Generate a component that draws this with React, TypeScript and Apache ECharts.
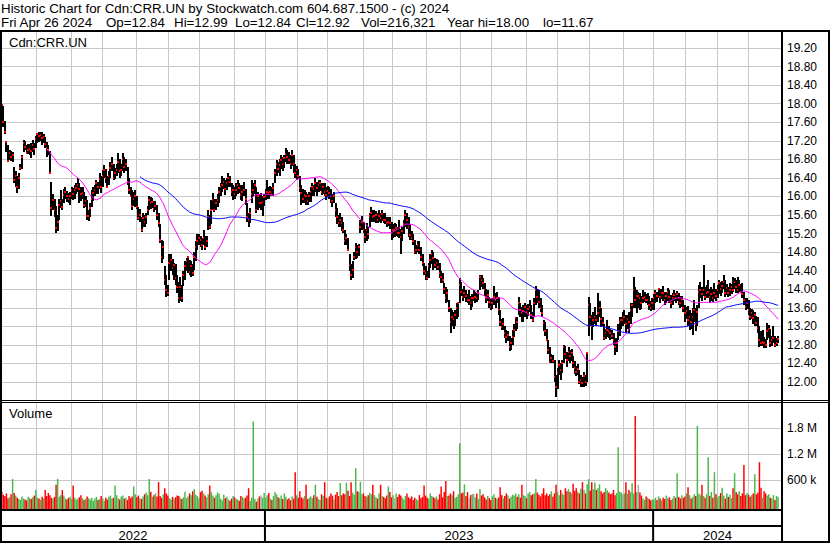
import React, { useEffect, useRef } from 'react';
import * as echarts from 'echarts';

const FONT = '"Liberation Sans", Arial, Helvetica, sans-serif';

// ---- calendar: trading days per month (Apr 2022 .. Apr 2024) ----
const monthBars = [2, 21, 22, 20, 22, 21, 20, 22, 20, 21, 19, 23, 19, 22, 22, 20, 22, 20, 21, 22, 19, 21, 20, 20, 20];
const yearNames = ['2022', '2023', '2024'];
const yearBars = [170, 250, 81];
const padSlots = 2; // empty slots after the last bar

// ---- daily closes ----
const close2022 = [
  17.97, 17.60, 17.40, 17.18, 16.76, 16.93, 16.85, 16.90, 16.35, 16.43,
  16.20, 16.40, 16.62, 16.86, 17.16, 17.06, 16.93, 17.00, 17.02, 16.98,
  17.10, 17.02, 17.24, 17.34, 17.30, 17.32, 17.25, 17.29, 17.12, 17.04,
  17.00, 16.50, 15.75, 15.93, 15.70, 15.31, 15.45, 15.82, 15.90, 15.78,
  16.03, 16.10, 16.00, 15.95, 16.00, 16.14, 16.05, 16.14, 16.18, 16.25,
  16.15, 16.05, 16.07, 15.82, 15.90, 15.57, 15.58, 15.75, 15.95, 16.07,
  16.14, 16.28, 16.20, 16.37, 16.21, 16.45, 16.57, 16.39, 16.21, 16.45,
  16.61, 16.70, 16.39, 16.50, 16.57, 16.75, 16.54, 16.57, 16.80, 16.64,
  16.70, 16.32, 16.14, 16.01, 15.80, 15.95, 16.01, 15.78, 15.53, 15.60,
  15.28, 15.53, 15.45, 15.56, 15.71, 15.92, 15.85, 15.89, 15.74, 15.80,
  15.60, 15.42, 15.06, 14.70, 14.90, 14.20, 13.98, 13.91, 14.56, 14.63,
  14.45, 14.52, 14.25, 14.05, 13.80, 14.05, 13.80, 14.31, 14.50, 14.60,
  14.70, 14.38, 14.49, 14.35, 14.70, 14.92, 15.03, 15.10, 15.06, 14.95,
  15.10, 14.92, 15.05, 15.56, 15.35, 15.70, 15.92, 15.71, 15.85, 15.92,
  16.10, 16.21, 16.25, 16.32, 16.15, 16.28, 16.40, 16.32, 16.10, 16.14,
  16.05, 16.14, 16.25, 16.18, 16.03, 16.10, 16.14, 15.95, 15.56, 15.49,
  15.65, 16.05, 16.14, 16.25, 15.71, 16.00, 15.85, 15.85, 15.89, 15.99,
];
const close2023 = [
  16.00, 16.10, 16.07, 16.10, 16.05, 16.18, 16.51, 16.71, 16.60, 16.68,
  16.79, 16.70, 16.82, 16.92, 16.85, 16.79, 16.71, 16.90, 16.71, 16.50,
  16.57, 16.45, 16.18, 16.07, 15.95, 16.03, 16.00, 15.90, 16.02, 16.10,
  16.21, 16.15, 16.28, 16.18, 16.25, 16.28, 16.10, 16.20, 16.10, 16.03,
  16.12, 16.07, 16.00, 15.90, 16.00, 15.71, 15.55, 15.42, 15.50, 15.42,
  15.28, 15.03, 15.10, 14.85, 14.52, 14.30, 14.42, 14.70, 14.92, 14.80,
  14.90, 15.35, 15.45, 15.28, 15.13, 15.28, 15.20, 15.57, 15.64, 15.55,
  15.57, 15.60, 15.50, 15.57, 15.53, 15.62, 15.50, 15.49, 15.42, 15.45,
  15.42, 15.21, 15.28, 15.28, 15.31, 15.22, 15.21, 15.13, 15.25, 15.40,
  15.60, 15.49, 15.35, 15.17, 15.10, 15.05, 14.81, 14.85, 14.95, 14.85,
  14.70, 14.56, 14.40, 14.34, 14.25, 14.49, 14.63, 14.75, 14.67, 14.52,
  14.56, 14.48, 14.35, 14.27, 14.20, 14.00, 13.80, 13.91, 13.60, 13.30,
  13.41, 13.35, 13.45, 13.60, 13.70, 14.09, 13.95, 13.84, 13.91, 13.85,
  13.77, 13.77, 13.70, 13.82, 13.82, 13.84, 13.80, 13.92, 14.27, 14.20,
  14.13, 13.98, 13.80, 13.88, 13.73, 13.62, 13.70, 13.84, 13.77, 13.82,
  13.55, 13.30, 13.19, 13.25, 13.05, 12.98, 13.02, 12.76, 12.85, 12.98,
  13.12, 13.37, 13.30, 13.70, 13.55, 13.48, 13.52, 13.62, 13.50, 13.58,
  13.62, 13.45, 13.34, 13.70, 13.98, 13.84, 13.73, 13.60, 13.48, 13.27,
  13.10, 12.91, 12.70, 12.44, 12.51, 12.45, 12.10, 11.90, 12.19, 12.37,
  12.25, 12.40, 12.76, 12.60, 12.48, 12.65, 12.55, 12.62, 12.40, 12.30,
  12.22, 12.28, 12.01, 12.05, 11.97, 12.12, 12.00, 12.62, 13.66, 13.41,
  13.20, 13.34, 13.40, 13.34, 13.48, 13.60, 13.35, 13.27, 12.94, 13.05,
  13.12, 13.09, 13.05, 13.00, 12.91, 12.76, 12.85, 13.10, 13.30, 13.34,
  13.34, 13.41, 13.25, 13.35, 13.30, 13.55, 13.65, 13.98, 13.77, 13.85,
  13.85, 13.80, 13.70, 13.80, 13.84, 13.76, 13.77, 13.66, 13.59, 13.70,
];
const close2024 = [
  13.80, 13.91, 13.85, 14.00, 13.84, 13.92, 13.91, 13.77, 13.85, 13.95,
  13.84, 13.70, 13.82, 13.88, 13.80, 13.90, 13.80, 13.70, 13.76, 13.59,
  13.48, 13.52, 13.34, 13.41, 13.30, 13.41, 13.55, 13.25, 13.50, 13.95,
  13.98, 13.90, 13.98, 13.84, 13.92, 13.95, 13.84, 13.90, 13.80, 13.91,
  13.85, 13.98, 14.13, 14.00, 14.08, 14.16, 13.91, 14.02, 13.91, 13.98,
  14.05, 13.98, 14.16, 14.05, 13.98, 14.10, 13.95, 13.90, 13.77, 13.62,
  13.70, 13.55, 13.41, 13.48, 13.37, 13.45, 13.28, 13.16, 12.91, 12.85,
  12.87, 12.84, 12.80, 13.09, 13.15, 12.84, 12.90, 12.94, 12.80, 12.84, 12.92,
];

// ---- daily highs ----
const high2022 = [
  18.00, 17.95, 17.62, 17.20, 17.10, 17.00, 16.98, 16.95, 16.64, 16.55,
  16.45, 16.50, 16.70, 16.90, 17.22, 17.20, 17.10, 17.12, 17.12, 17.15,
  17.22, 17.15, 17.30, 17.36, 17.38, 17.40, 17.38, 17.35, 17.29, 17.18,
  17.10, 16.97, 16.32, 16.05, 15.95, 15.80, 15.60, 15.95, 16.14, 15.95,
  16.15, 16.21, 16.12, 16.08, 16.10, 16.21, 16.18, 16.25, 16.30, 16.39,
  16.30, 16.20, 16.21, 16.10, 16.00, 15.92, 15.70, 15.85, 16.14, 16.20,
  16.25, 16.36, 16.32, 16.50, 16.45, 16.57, 16.68, 16.60, 16.45, 16.55,
  16.75, 16.86, 16.70, 16.62, 16.70, 16.93, 16.80, 16.70, 16.93, 16.85,
  16.80, 16.64, 16.40, 16.20, 16.14, 16.10, 16.14, 16.02, 15.78, 15.74,
  15.55, 15.64, 15.60, 15.64, 15.80, 16.00, 15.98, 15.96, 15.90, 15.90,
  15.82, 15.65, 15.40, 15.06, 15.05, 14.49, 14.30, 14.10, 14.77, 14.75,
  14.65, 14.56, 14.55, 14.30, 14.15, 14.27, 14.10, 14.40, 14.60, 14.68,
  14.70, 14.63, 14.60, 14.55, 14.80, 15.05, 15.20, 15.20, 15.15, 15.10,
  15.28, 15.15, 15.15, 15.70, 15.60, 15.92, 16.07, 15.95, 15.95, 16.05,
  16.20, 16.28, 16.43, 16.40, 16.35, 16.40, 16.50, 16.45, 16.28, 16.25,
  16.20, 16.30, 16.35, 16.30, 16.25, 16.25, 16.32, 16.15, 15.85, 15.65,
  15.75, 16.35, 16.30, 16.35, 16.20, 16.10, 16.05, 16.07, 16.00, 16.05,
];
const high2023 = [
  16.15, 16.36, 16.20, 16.22, 16.20, 16.28, 16.60, 16.79, 16.75, 16.80,
  16.89, 16.85, 16.90, 17.04, 17.00, 16.95, 16.90, 17.00, 16.90, 16.71,
  16.65, 16.60, 16.43, 16.25, 16.15, 16.14, 16.10, 16.05, 16.10, 16.20,
  16.28, 16.25, 16.39, 16.32, 16.35, 16.36, 16.30, 16.30, 16.28, 16.20,
  16.22, 16.21, 16.15, 16.05, 16.10, 15.85, 15.75, 15.60, 15.64, 15.55,
  15.45, 15.28, 15.20, 15.10, 14.77, 14.55, 14.60, 14.80, 14.99, 14.95,
  14.98, 15.50, 15.57, 15.45, 15.30, 15.42, 15.35, 15.65, 15.78, 15.70,
  15.71, 15.68, 15.65, 15.71, 15.65, 15.70, 15.65, 15.64, 15.55, 15.55,
  15.56, 15.45, 15.40, 15.42, 15.40, 15.35, 15.49, 15.30, 15.35, 15.50,
  15.71, 15.65, 15.55, 15.40, 15.25, 15.20, 15.06, 14.95, 15.03, 15.03,
  14.90, 14.75, 14.56, 14.50, 14.40, 14.56, 14.75, 14.85, 14.80, 14.67,
  14.65, 14.62, 14.56, 14.40, 14.35, 14.13, 14.05, 14.00, 13.77, 13.60,
  13.55, 13.50, 13.55, 13.70, 13.70, 14.24, 14.15, 14.00, 14.06, 13.98,
  13.90, 13.98, 13.85, 13.90, 13.98, 13.95, 13.92, 13.98, 14.31, 14.30,
  14.25, 14.13, 14.00, 13.98, 13.84, 13.78, 13.80, 14.06, 13.92, 13.95,
  13.84, 13.55, 13.35, 13.38, 13.20, 13.12, 13.10, 13.00, 12.95, 13.12,
  13.25, 13.41, 13.40, 13.84, 13.70, 13.62, 13.65, 13.70, 13.65, 13.68,
  13.77, 13.65, 13.50, 13.80, 14.06, 14.00, 13.98, 13.80, 13.65, 13.34,
  13.30, 13.15, 12.91, 12.75, 12.60, 12.58, 12.48, 12.15, 12.30, 12.48,
  12.40, 12.48, 12.80, 12.78, 12.65, 12.76, 12.70, 12.72, 12.55, 12.45,
  12.35, 12.38, 12.26, 12.15, 12.10, 12.22, 12.15, 12.65, 13.84, 13.70,
  13.45, 13.50, 13.62, 13.45, 13.91, 13.75, 13.60, 13.40, 13.25, 13.15,
  13.34, 13.20, 13.15, 13.12, 13.05, 12.95, 12.95, 13.25, 13.41, 13.40,
  13.50, 13.55, 13.45, 13.45, 13.50, 13.70, 13.70, 14.27, 14.05, 13.98,
  13.95, 13.92, 13.85, 13.98, 13.95, 13.90, 13.91, 13.85, 13.75, 13.80,
];
const high2024 = [
  13.90, 13.98, 13.95, 14.02, 14.00, 14.00, 14.06, 13.95, 13.95, 14.02,
  13.98, 13.88, 13.92, 13.98, 13.92, 13.96, 13.91, 13.85, 13.86, 13.77,
  13.65, 13.62, 13.63, 13.55, 13.48, 13.60, 13.77, 13.60, 13.65, 14.10,
  14.16, 14.05, 14.52, 14.05, 14.10, 14.20, 14.00, 14.05, 14.00, 14.13,
  14.00, 14.10, 14.20, 14.15, 14.18, 14.31, 14.20, 14.12, 14.05, 14.13,
  14.12, 14.27, 14.25, 14.20, 14.27, 14.20, 14.12, 14.13, 13.95, 13.82,
  13.80, 13.77, 13.60, 13.58, 13.55, 13.50, 13.42, 13.41, 13.20, 13.10,
  13.12, 12.98, 12.92, 13.27, 13.22, 13.15, 13.00, 13.20, 13.00, 12.95, 12.99,
];

// ---- daily lows ----
const low2022 = [
  17.60, 17.50, 17.35, 16.95, 16.75, 16.78, 16.76, 16.75, 16.30, 16.20,
  16.07, 16.15, 16.57, 16.60, 16.95, 17.00, 16.93, 16.92, 16.90, 16.82,
  16.95, 16.90, 17.04, 17.15, 17.18, 17.20, 17.11, 17.15, 17.05, 16.86,
  16.90, 16.48, 15.57, 15.70, 15.55, 15.21, 15.25, 15.50, 15.75, 15.71,
  15.85, 15.95, 15.88, 15.85, 15.82, 15.95, 15.92, 15.95, 16.05, 16.10,
  15.85, 15.90, 15.95, 15.75, 15.78, 15.50, 15.46, 15.55, 15.78, 15.90,
  16.00, 16.05, 16.05, 16.15, 16.07, 16.20, 16.40, 16.30, 16.21, 16.25,
  16.40, 16.55, 16.36, 16.38, 16.45, 16.50, 16.39, 16.43, 16.55, 16.50,
  16.55, 16.25, 16.05, 15.99, 15.71, 15.80, 15.78, 15.74, 15.49, 15.45,
  15.24, 15.35, 15.35, 15.40, 15.60, 15.70, 15.72, 15.75, 15.67, 15.70,
  15.50, 15.35, 15.00, 14.56, 14.65, 14.10, 13.84, 13.85, 14.20, 14.40,
  14.30, 14.20, 14.10, 13.91, 13.70, 13.75, 13.72, 14.06, 14.20, 14.40,
  14.35, 14.30, 14.27, 14.28, 14.42, 14.60, 14.85, 14.95, 14.90, 14.85,
  14.95, 14.85, 14.90, 15.28, 15.30, 15.40, 15.70, 15.67, 15.70, 15.78,
  15.85, 16.00, 16.10, 16.15, 16.03, 16.14, 16.20, 16.20, 16.00, 15.92,
  15.95, 16.00, 16.05, 16.08, 15.92, 15.90, 16.00, 15.82, 15.45, 15.35,
  15.42, 15.85, 16.00, 16.05, 15.64, 15.70, 15.75, 15.70, 15.57, 15.80,
];
const low2023 = [
  15.92, 15.95, 15.95, 16.00, 16.00, 16.02, 16.28, 16.45, 16.50, 16.43,
  16.60, 16.55, 16.62, 16.75, 16.71, 16.71, 16.60, 16.65, 16.50, 16.40,
  16.36, 16.38, 16.10, 15.82, 15.85, 15.85, 15.82, 15.82, 15.88, 15.89,
  16.00, 16.02, 16.10, 16.00, 16.10, 16.12, 16.03, 16.05, 16.00, 15.92,
  15.98, 15.95, 15.85, 15.78, 15.85, 15.55, 15.40, 15.35, 15.35, 15.25,
  15.21, 14.95, 14.95, 14.85, 14.40, 14.20, 14.25, 14.63, 14.65, 14.68,
  14.72, 15.21, 15.28, 15.22, 14.99, 15.05, 15.08, 15.35, 15.45, 15.45,
  15.45, 15.42, 15.42, 15.45, 15.42, 15.48, 15.42, 15.40, 15.35, 15.36,
  15.30, 15.06, 15.10, 15.13, 15.15, 15.13, 15.10, 14.77, 15.05, 15.20,
  15.35, 15.30, 15.13, 15.06, 15.06, 14.95, 14.77, 14.77, 14.80, 14.75,
  14.60, 14.49, 14.30, 14.20, 14.20, 14.25, 14.45, 14.55, 14.42, 14.45,
  14.42, 14.42, 14.25, 14.13, 14.13, 13.90, 13.70, 13.72, 13.50, 13.05,
  13.20, 13.15, 13.20, 13.35, 13.40, 13.70, 13.85, 13.75, 13.80, 13.72,
  13.70, 13.65, 13.55, 13.62, 13.75, 13.70, 13.72, 13.76, 13.98, 14.05,
  14.00, 13.85, 13.70, 13.74, 13.60, 13.55, 13.58, 13.65, 13.60, 13.70,
  13.45, 13.20, 13.12, 13.12, 12.95, 12.84, 12.88, 12.66, 12.70, 12.80,
  12.98, 13.10, 13.15, 13.45, 13.40, 13.30, 13.30, 13.40, 13.35, 13.42,
  13.50, 13.35, 13.30, 13.41, 13.65, 13.70, 13.60, 13.50, 13.41, 13.10,
  13.00, 12.91, 12.60, 12.40, 12.40, 12.40, 12.00, 11.67, 11.85, 12.15,
  12.05, 12.20, 12.40, 12.50, 12.33, 12.45, 12.40, 12.45, 12.30, 12.18,
  12.12, 12.15, 11.95, 11.90, 11.90, 11.90, 11.92, 12.00, 13.00, 13.20,
  12.91, 13.19, 13.25, 13.20, 13.30, 13.40, 13.19, 13.20, 12.91, 12.92,
  12.98, 12.95, 12.91, 12.92, 12.80, 12.58, 12.65, 12.91, 13.00, 13.15,
  13.20, 13.25, 13.05, 13.15, 13.05, 13.25, 13.40, 13.60, 13.60, 13.48,
  13.60, 13.55, 13.58, 13.70, 13.72, 13.70, 13.65, 13.55, 13.52, 13.55,
];
const low2024 = [
  13.55, 13.70, 13.72, 13.80, 13.70, 13.78, 13.75, 13.66, 13.70, 13.75,
  13.70, 13.59, 13.65, 13.75, 13.70, 13.74, 13.65, 13.59, 13.62, 13.50,
  13.30, 13.35, 13.20, 13.12, 13.15, 13.02, 13.30, 13.10, 13.20, 13.59,
  13.80, 13.75, 13.85, 13.77, 13.80, 13.80, 13.70, 13.75, 13.73, 13.78,
  13.75, 13.80, 13.90, 13.85, 13.92, 14.00, 13.84, 13.88, 13.84, 13.86,
  13.90, 13.95, 14.00, 13.91, 13.92, 13.95, 13.91, 13.80, 13.65, 13.55,
  13.58, 13.45, 13.34, 13.36, 13.25, 13.20, 13.20, 13.05, 12.76, 12.78,
  12.78, 12.73, 12.73, 12.90, 12.95, 12.76, 12.78, 12.85, 12.76, 12.78, 12.84,
];

// ---- daily volume (thousands of shares) ----
const vol2022 = [
  330, 270, 240, 300, 190, 210, 280, 635, 310, 250,
  200, 170, 150, 230, 180, 160, 140, 220, 190, 170,
  210, 250, 380, 200, 180, 150, 220, 190, 380, 240,
  310, 260, 200, 180, 220, 497, 635, 220, 260, 380,
  250, 180, 160, 200, 220, 170, 480, 200, 150, 180,
  210, 260, 190, 150, 170, 230, 190, 160, 200, 130,
  180, 220, 150, 170, 240, 190, 130, 200, 160, 220,
  250, 180, 200, 480, 260, 190, 160, 230, 250, 180,
  200, 150, 240, 190, 230, 460, 280, 210, 250, 190,
  170, 230, 280, 320, 260, 635, 340, 220, 260, 300,
  230, 560, 240, 200, 280, 420, 300, 250, 190, 160,
  220, 180, 210, 250, 240, 200, 170, 210, 340, 190,
  230, 300, 260, 350, 400, 270, 240, 190, 330, 360,
  300, 250, 210, 280, 480, 330, 250, 200, 260, 320,
  290, 180, 140, 270, 190, 220, 160, 130, 180, 240,
  210, 170, 160, 130, 240, 220, 190, 200, 250, 420,
  130, 200, 1958, 170, 110, 180, 230, 250, 200, 310,
];
const vol2023 = [
  200, 260, 310, 180, 150, 240, 330, 280, 210, 190,
  250, 170, 300, 220, 160, 190, 140, 230, 180, 789,
  260, 200, 350, 210, 180, 240, 500, 170, 200, 230,
  190, 260, 500, 220, 170, 150, 280, 240, 560, 200,
  180, 230, 300, 250, 160, 270, 330, 240, 540, 260,
  300, 280, 550, 360, 240, 560, 320, 270, 881, 350,
  330, 570, 280, 300, 240, 220, 260, 310, 280, 500,
  260, 210, 180, 300, 500, 240, 220, 190, 250, 460,
  330, 210, 260, 180, 300, 220, 280, 250, 200, 160,
  240, 300, 210, 180, 230, 150, 200, 170, 140, 260,
  190, 220, 481, 250, 200, 180, 300, 240, 210, 190,
  230, 160, 280, 460, 210, 330, 589, 240, 250, 300,
  260, 350, 200, 220, 280, 1458, 300, 320, 510, 240,
  330, 190, 260, 280, 290, 210, 300, 170, 400, 250,
  280, 210, 160, 240, 190, 150, 230, 280, 200, 170,
  210, 440, 260, 190, 240, 300, 260, 180, 220, 270,
  250, 300, 220, 280, 200, 500, 260, 240, 190, 300,
  330, 260, 280, 300, 635, 320, 270, 230, 300, 420,
  260, 300, 240, 280, 350, 220, 300, 500, 330, 260,
  380, 300, 270, 420, 350, 400, 330, 300, 520, 360,
  420, 340, 300, 410, 560, 380, 300, 510, 630, 360,
  560, 400, 550, 380, 420, 510, 350, 300, 330, 420,
  370, 320, 280, 300, 380, 260, 310, 1366, 340, 320,
  280, 300, 560, 290, 380, 330, 535, 300, 2089, 330,
  500, 320, 250, 180, 150, 230, 200, 170, 140, 160,
];
const vol2024 = [
  160, 200, 150, 230, 180, 140, 200, 170, 250, 190,
  210, 150, 180, 240, 200, 766, 220, 180, 260, 200,
  230, 300, 440, 260, 180, 220, 280, 240, 1858, 300,
  260, 500, 240, 200, 280, 1135, 240, 330, 200, 789,
  280, 200, 240, 310, 430, 250, 180, 300, 220, 270,
  190, 420, 766, 330, 280, 350, 240, 300, 958, 260,
  310, 270, 220, 260, 300, 743, 280, 320, 1020, 430,
  200, 350, 300, 250, 280, 200, 180, 260, 150, 240, 216,
];

// ---- axis ticks ----
const priceTicks = [12.0, 12.4, 12.8, 13.2, 13.6, 14.0, 14.4, 14.8, 15.2, 15.6, 16.0, 16.4, 16.8, 17.2, 17.6, 18.0, 18.4, 18.8, 19.2];
const volTicks = [600, 1200, 1800];
const volTickLabels = ['600 k', '1.2 M', '1.8 M'];

// ---- header texts ----
const titleText = 'Historic Chart for Cdn:CRR.UN by Stockwatch.com 604.687.1500 - (c) 2024';
const symbolText = 'Cdn:CRR.UN';
const volumeText = 'Volume';
const lastDate = 'Fri Apr 26 2024';
const lastOpen = 12.84;
const lastHigh = 12.99;
const lastLow = 12.84;
const lastClose = 12.92;
const lastVolume = '216,321';
const yearHigh = 18.0;
const yearLow = 11.67;

// ---- layout (pixels) ----
const W = 830;
const H = 543;
const PLOT_L = 1;
const PLOT_R = 782;
const PRICE_TOP = 32;
const PRICE_BOTTOM = 400;
const VOL_TOP = 402;
const VOL_BOTTOM = 509;
const Y_LOW_TICK = 382; // pixel row of the lowest price tick
const Y_HIGH_TICK = 48; // pixel row of the highest price tick
const VOL_ZERO_Y = 506.4;
const VOL_600K_Y = 480.4;
const HEADER_FONT = 13.33;
const INFO_X = [1, 106, 174, 235, 296, 361, 447, 543]; // left edges of the info-line fields

function sma(values: number[], n: number): (number | null)[] {
  const out: (number | null)[] = [];
  let sum = 0;
  for (let i = 0; i < values.length; i++) {
    sum += values[i];
    if (i >= n) sum -= values[i - n];
    out.push(i >= n - 1 ? +(sum / n).toFixed(4) : null);
  }
  return out;
}

export default function App() {
  const ref = useRef<HTMLDivElement>(null);

  useEffect(() => {
    const el = ref.current;
    if (!el) return;
    const chart = echarts.init(el, undefined, { renderer: 'svg', width: W, height: H });

    const closes = [...close2022, ...close2023, ...close2024];
    const highs = [...high2022, ...high2023, ...high2024];
    const lows = [...low2022, ...low2023, ...low2024];
    const vols = [...vol2022, ...vol2023, ...vol2024];
    const n = closes.length;
    const slots = n + padSlots;
    const slotLabels = Array.from({ length: slots }, (_, i) => String(i));

    const monthStarts = new Set<number>();
    let acc = 0;
    monthBars.forEach((m) => {
      if (acc > 4) monthStarts.add(acc);
      acc += m;
    });

    const ma30 = sma(closes, 30);
    const ma90 = sma(closes, 90);

    const pricePx = (Y_LOW_TICK - Y_HIGH_TICK) / (priceTicks[priceTicks.length - 1] - priceTicks[0]);
    const priceMin = priceTicks[0] - (PRICE_BOTTOM - Y_LOW_TICK) / pricePx;
    const priceMax = priceTicks[priceTicks.length - 1] + (Y_HIGH_TICK - PRICE_TOP) / pricePx;
    const volPx = (VOL_ZERO_Y - VOL_600K_Y) / volTicks[0];
    const volMin = -(VOL_BOTTOM - VOL_ZERO_Y) / volPx;
    const volMax = (VOL_ZERO_Y - VOL_TOP) / volPx;

    const ohlc = closes.map((c, i) => [i, highs[i], lows[i], c]);
    const volData = vols.map((v, i) => {
      const d = i === 0 ? -1 : Math.sign(+(closes[i] - closes[i - 1]).toFixed(4));
      return [i, v, d];
    });

    const gridColor = '#c8c8c8';
    const labelStyle = { color: '#000', fontSize: 12, fontFamily: FONT, margin: 5 };

    const xAxisBase = (gridIndex: number) => ({
      type: 'category',
      gridIndex,
      data: slotLabels,
      boundaryGap: true,
      axisLine: { show: false },
      axisTick: { show: false },
      axisLabel: { show: false },
      splitLine: {
        show: true,
        interval: (idx: number) => monthStarts.has(idx),
        lineStyle: { color: gridColor, width: 1 },
      },
    });

    const yearStarts: number[] = [];
    let ys = 0;
    yearBars.forEach((b) => {
      yearStarts.push(ys);
      ys += b;
    });
    const slotW = (PLOT_R - PLOT_L) / slots;
    const yearX = yearStarts.map((s) => PLOT_L + s * slotW);

    const black = '#000';
    const rect = (x: number, y: number, w: number, h: number) => ({
      type: 'rect',
      shape: { x, y, width: w, height: h },
      style: { fill: black },
      silent: true,
      z: 100,
    });
    const text = (x: number, y: number, t: string, size: number, align = 'left') => ({
      type: 'text',
      x,
      y,
      silent: true,
      z: 101,
      style: {
        text: t,
        font: `${size}px ${FONT}`,
        fill: '#000',
        textAlign: align,
        textVerticalAlign: 'middle',
        verticalAlign: 'middle',
      },
    });

    const infoFields = [
      lastDate,
      `Op=${lastOpen.toFixed(2)}`,
      `Hi=${lastHigh.toFixed(2)}`,
      `Lo=${lastLow.toFixed(2)}`,
      `Cl=${lastClose.toFixed(2)}`,
      `Vol=${lastVolume}`,
      `Year hi=${yearHigh.toFixed(2)}`,
      `lo=${yearLow.toFixed(2)}`,
    ];
    const infoEls = infoFields.map((f, k) => text(INFO_X[k], 22, f, HEADER_FONT));

    const yearLabelEls = yearNames.map((name, k) => {
      const x0 = yearX[k];
      const x1 = k + 1 < yearX.length ? yearX[k + 1] : PLOT_R;
      return text((x0 + x1) / 2, 535, name, 13, 'center');
    });

    const option: any = {
      animation: false,
      backgroundColor: '#fff',
      grid: [
        { left: PLOT_L, top: PRICE_TOP, width: PLOT_R - PLOT_L, height: PRICE_BOTTOM - PRICE_TOP },
        { left: PLOT_L, top: VOL_TOP, width: PLOT_R - PLOT_L, height: VOL_BOTTOM - VOL_TOP },
      ],
      xAxis: [xAxisBase(0), xAxisBase(1)],
      yAxis: [
        {
          type: 'value',
          gridIndex: 0,
          position: 'right',
          min: priceMin,
          max: priceMax,
          axisLine: { show: false },
          axisTick: { show: false, customValues: priceTicks },
          axisLabel: { ...labelStyle, customValues: priceTicks, formatter: (v: number) => v.toFixed(2) },
          splitLine: { show: true, lineStyle: { color: gridColor, width: 1 } },
        },
        {
          type: 'value',
          gridIndex: 1,
          position: 'right',
          min: volMin,
          max: volMax,
          axisLine: { show: false },
          axisTick: { show: false, customValues: volTicks },
          axisLabel: {
            ...labelStyle,
            customValues: volTicks,
            formatter: (v: number) => volTickLabels[volTicks.indexOf(Math.round(v))] ?? '',
          },
          splitLine: { show: true, lineStyle: { color: gridColor, width: 1 } },
        },
      ],
      series: [
        {
          type: 'custom',
          name: 'price',
          xAxisIndex: 0,
          yAxisIndex: 0,
          data: ohlc,
          encode: { x: 0, y: [1, 2, 3] },
          clip: true,
          silent: true,
          z: 3,
          renderItem: (_params: any, api: any) => {
            const i = api.value(0);
            const hi = api.coord([i, api.value(1)]);
            const lo = api.coord([i, api.value(2)]);
            const cl = api.coord([i, api.value(3)]);
            const left = Math.round(hi[0]) - 1;
            const top = Math.round(hi[1]);
            const bottom = Math.max(top + 1, Math.round(lo[1]));
            const cy = Math.round(cl[1]);
            return {
              type: 'group',
              children: [
                {
                  type: 'rect',
                  shape: { x: left, y: top, width: 2, height: bottom - top },
                  style: { fill: '#000' },
                },
                {
                  type: 'rect',
                  shape: { x: left, y: cy - 1, width: 2, height: 2 },
                  style: { fill: '#ff0000' },
                },
              ],
            };
          },
        },
        {
          type: 'line',
          name: 'MA30',
          xAxisIndex: 0,
          yAxisIndex: 0,
          data: ma30,
          showSymbol: false,
          symbol: 'none',
          silent: true,
          z: 4,
          lineStyle: { color: '#ff00ff', width: 1 },
        },
        {
          type: 'line',
          name: 'MA90',
          xAxisIndex: 0,
          yAxisIndex: 0,
          data: ma90,
          showSymbol: false,
          symbol: 'none',
          silent: true,
          z: 4,
          lineStyle: { color: '#0000ff', width: 1 },
        },
        {
          type: 'custom',
          name: 'volume',
          xAxisIndex: 1,
          yAxisIndex: 1,
          data: volData,
          encode: { x: 0, y: 1 },
          clip: true,
          silent: true,
          z: 3,
          renderItem: (params: any, api: any) => {
            const i = api.value(0);
            const top = api.coord([i, api.value(1)]);
            const bw = api.size([1, 0])[0];
            const bottom = params.coordSys.y + params.coordSys.height;
            const d = api.value(2);
            const fill = d > 0 ? '#4cb84c' : d < 0 ? '#ff0000' : '#a8a8a8';
            return {
              type: 'rect',
              shape: { x: top[0] - bw / 2, y: top[1], width: bw * 0.95, height: bottom - top[1] },
              style: { fill },
            };
          },
        },
      ],
      graphic: {
        elements: [
          // frame
          rect(0, 30, W, 2),
          rect(0, 30, 2, H - 30),
          rect(PLOT_R - 1, 30, 2, H - 30),
          rect(W - 2, 30, 2, H - 30),
          rect(0, PRICE_BOTTOM, W, 1),
          rect(0, VOL_TOP, W, 1),
          rect(0, VOL_BOTTOM, PLOT_R, 2),
          rect(0, 525, PLOT_R, 2),
          rect(0, H - 2, W, 2),
          ...yearX.slice(1).map((x) => rect(x - 1, VOL_BOTTOM, 2, H - VOL_BOTTOM)),
          // texts
          text(1, 8, titleText, HEADER_FONT),
          ...infoEls,
          text(9, 42, symbolText, 13),
          text(9, 413, volumeText, 13),
          ...yearLabelEls,
        ],
      },
    };

    chart.setOption(option);
    return () => chart.dispose();
  }, []);

  return (
    <div
      ref={ref}
      style={{ position: 'absolute', left: 0, top: 0, width: W, height: H, background: '#fff' }}
    />
  );
}
